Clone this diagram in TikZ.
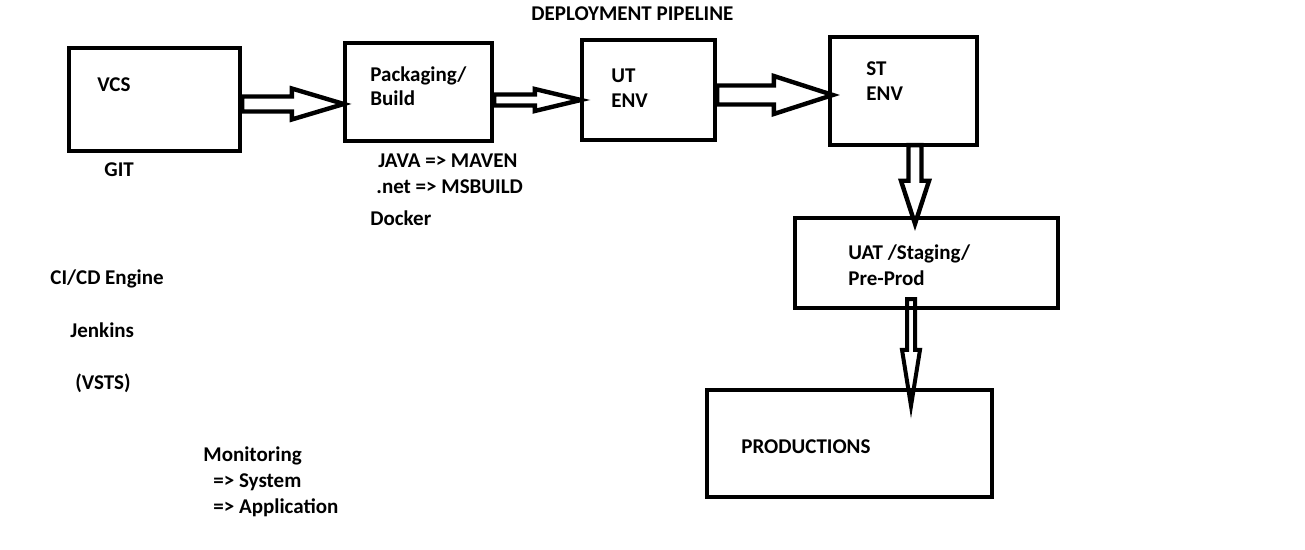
\documentclass[tikz,border=0pt]{standalone}
\usepackage{fontspec}
\setmainfont{Carlito}
\usetikzlibrary{calc}

\begin{document}
\begin{tikzpicture}[x=0.5pt, y=-0.5pt,
    box/.style={draw, line width=2.2pt, inner sep=0pt},
    txt/.style={font=\bfseries\fontsize{10.5}{13}\selectfont, inner sep=0pt, anchor=base west},
    arrowline/.style={line width=2.2pt, line join=miter},
    fat/.style n args={3}{to path={
        ($(\tikztostart)!#1!90:(\tikztotarget)$)
        -- ($(\tikztotarget)!#3!(\tikztostart)!#1!-90:(\tikztostart)$)
        -- ($(\tikztotarget)!#3!(\tikztostart)!#2!-90:(\tikztostart)$)
        -- (\tikztotarget)
        -- ($(\tikztotarget)!#3!(\tikztostart)!#2!90:(\tikztostart)$)
        -- ($(\tikztotarget)!#3!(\tikztostart)!#1!90:(\tikztostart)$)
        -- ($(\tikztostart)!#1!-90:(\tikztotarget)$)
        -- cycle}}]
            \useasboundingbox (0,0) rectangle (1305,550);

            \node[txt] (title) at (531, 21) {DEPLOYMENT PIPELINE};

            % pipeline boxes
            \node[box, minimum width=85.5pt, minimum height=51.5pt] (vcs) at (154.5, 99.5) {};
            \node[box, minimum width=73.5pt, minimum height=49pt] (pkg) at (418.5, 92) {};
            \node[box, minimum width=66.5pt, minimum height=50pt] (ut) at (648.5, 90) {};
            \node[box, minimum width=73.5pt, minimum height=54pt] (st) at (903.5, 91) {};
            \node[box, minimum width=131.5pt, minimum height=45pt] (uat) at (926.5, 263) {};
            \node[box, minimum width=142.5pt, minimum height=53.5pt] (prod) at (849.5, 443.5) {};

            \node[txt] (vcsl) at (97, 92) {VCS};
            \node[txt] (pkgl1) at (370, 82) {Packaging/};
            \node[txt] (pkgl2) at (370, 106) {Build};
            \node[txt] (utl1) at (611, 83) {UT};
            \node[txt] (utl2) at (611, 108) {ENV};
            \node[txt] (stl1) at (866, 76) {ST};
            \node[txt] (stl2) at (866, 101) {ENV};
            \node[txt] (uatl1) at (848, 260) {UAT /Staging/};
            \node[txt] (uatl2) at (848, 286) {Pre-Prod};
            \node[txt] (prodl) at (741, 453) {PRODUCTIONS};

            % notes
            \node[txt] (git) at (104, 177) {GIT};
            \node[txt] (java) at (378, 168) {JAVA => MAVEN};
            \node[txt] (net) at (376, 194) {.net => MSBUILD};
            \node[txt] (docker) at (370, 226) {Docker};
            \node[txt] (cicd) at (50, 285) {CI/CD Engine};
            \node[txt] (jenkins) at (70, 337) {Jenkins};
            \node[txt] (vsts) at (75, 389) {(VSTS)};
            \node[txt] (mon) at (203, 461) {Monitoring};
            \node[txt] (sys) at (213, 487) {=> System};
            \node[txt] (app) at (213, 513) {=> Application};

            % arrow ends
            \coordinate (a1s) at ($(vcs.east)+(0,4.5)$);
            \coordinate (a1t) at ($(pkg.west)+(1,12)$);
            \coordinate (a2s) at ($(pkg.east)+(0,8)$);
            \coordinate (a2t) at ($(ut.west)+(1,10)$);
            \coordinate (a3s) at ($(ut.east)+(0,5)$);
            \coordinate (a3t) at ($(st.west)+(5,4)$);
            \coordinate (a4s) at ($(st.south)+(11.5,-2)$);
            \coordinate (a4t) at ($(uat.north)+(-11.5,8)$);
            \coordinate (a5s) at ($(uat.south)+(-15.5,-11)$);
            \coordinate (a5t) at ($(prod.north)+(61.5,18)$);

            \draw[arrowline] (a1s) to[fat={3.75pt}{7.75pt}{26pt}] (a1t);
            \draw[arrowline] (a2s) to[fat={2.75pt}{5.5pt}{23pt}] (a2t);
            \draw[arrowline] (a3s) to[fat={4.75pt}{9.5pt}{29.5pt}] (a3t);
            \draw[arrowline] (a4s) to[fat={3.25pt}{7pt}{21.5pt}] (a4t);
            \draw[arrowline, line width=2pt] (a5s) to[fat={2pt}{4.5pt}{28pt}] (a5t);
        \end{tikzpicture}
\end{document}
